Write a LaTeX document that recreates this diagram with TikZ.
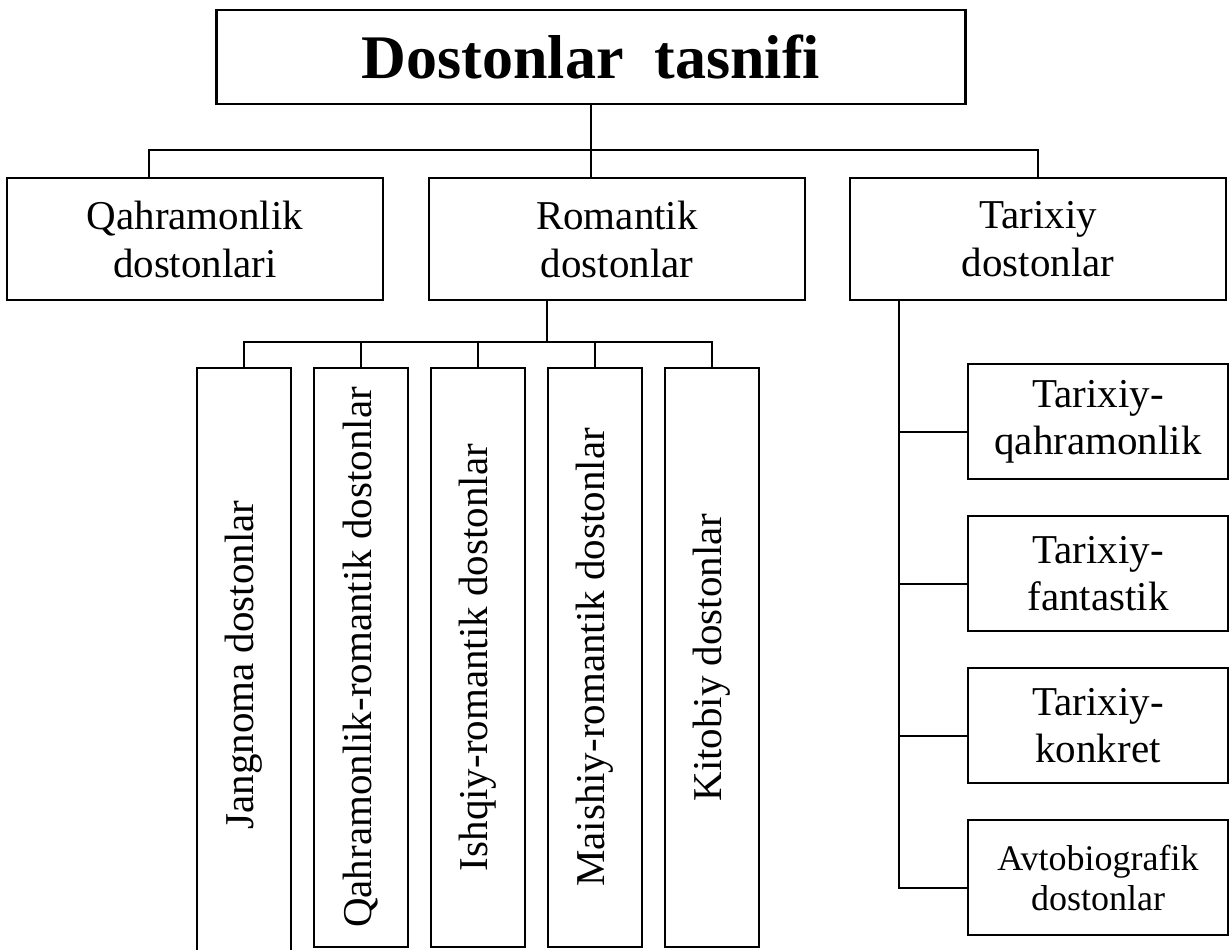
\documentclass[tikz,border=0pt]{standalone}
\usepackage{fontspec}
\setmainfont{Liberation Serif}
\usepackage{tikz}
\usetikzlibrary{positioning}

\begin{document}
\begin{tikzpicture}[x=0.5pt, y=-0.5pt]
    \tikzstyle{block} = [rectangle, draw, line width=1.3pt, align=center, inner sep=0pt, minimum width=188pt, minimum height=61pt, font=\fontsize{20.5pt}{24pt}\selectfont]
    \tikzstyle{head} = [block, minimum width=374.5pt, minimum height=47pt, font=\bfseries\fontsize{31pt}{36pt}\selectfont]
    \tikzstyle{vbox} = [block, minimum width=47pt, minimum height=289.5pt]
    \tikzstyle{rbox} = [block, minimum width=130pt, minimum height=57.5pt, font=\fontsize{20.5pt}{23.5pt}\selectfont]
    \tikzstyle{line} = [draw, line width=1pt]

    \useasboundingbox (0,0) rectangle (1232,949);

    % top and first level
    \node[head] (head) at (591,57) {Dostonlar\ \ tasnifi};
    \node[block, below of=head, node distance=91pt, xshift=13pt] (rom) {Romantik\\dostonlar};
    \node[block, left of=rom, node distance=211pt] (qah) {Qahramonlik\\dostonlari};
    \node[block, right of=rom, node distance=210.5pt] (tar) {Tarixiy\\dostonlar};

    % romantik dostonlar
    \node[vbox, minimum height=297pt, below of=rom, node distance=213pt, xshift=-186.5pt] (v1) {\rotatebox{90}{Jangnoma dostonlar}};
    \node[vbox, right of=v1, node distance=58.5pt, yshift=3.75pt] (v2) {\rotatebox{90}{Qahramonlik-romantik dostonlar}};
    \node[vbox, right of=v2, node distance=58.5pt] (v3) {\rotatebox{90}{Ishqiy-romantik dostonlar}};
    \node[vbox, right of=v3, node distance=58.5pt] (v4) {\rotatebox{90}{Maishiy-romantik dostonlar}};
    \node[vbox, right of=v4, node distance=58.5pt] (v5) {\rotatebox{90}{Kitobiy dostonlar}};

    % tarixiy dostonlar
    \node[rbox, below of=tar, node distance=91.25pt, xshift=30pt] (tq) {Tarixiy-\\qahramonlik};
    \node[rbox, below of=tq, node distance=76pt] (tf) {Tarixiy-\\fantastik};
    \node[rbox, below of=tf, node distance=76pt] (tk) {Tarixiy-\\konkret};
    \node[rbox, below of=tk, node distance=76pt, font=\fontsize{18pt}{20pt}\selectfont] (ta) {Avtobiografik\\dostonlar};

    % chiziqlar
    \coordinate (tj) at (149,150);
    \coordinate (rj) at (547,342);
    \coordinate (trunk) at (899,300);
    \path [line] (head.south) -- (head.south |- rom.north);
    \path [line] (tj |- qah.north) -- (tj) -| (tar.north);
    \path [line] (rj |- rom.south) -- (rj);
    \path [line] (v1.north) |- (rj -| v5.north) -- (v5.north);
    \foreach \n in {v2,v3,v4}
        \path [line] (\n.north) -- (\n.north |- rj);
    \path [line] (trunk |- tar.south) -- ([yshift=-5pt]ta.west -| trunk) -- ([yshift=-5pt]ta.west);
    \foreach \n in {tq,tf,tk}
        \path [line] ([yshift=-5pt]\n.west -| trunk) -- ([yshift=-5pt]\n.west);
\end{tikzpicture}
\end{document}
